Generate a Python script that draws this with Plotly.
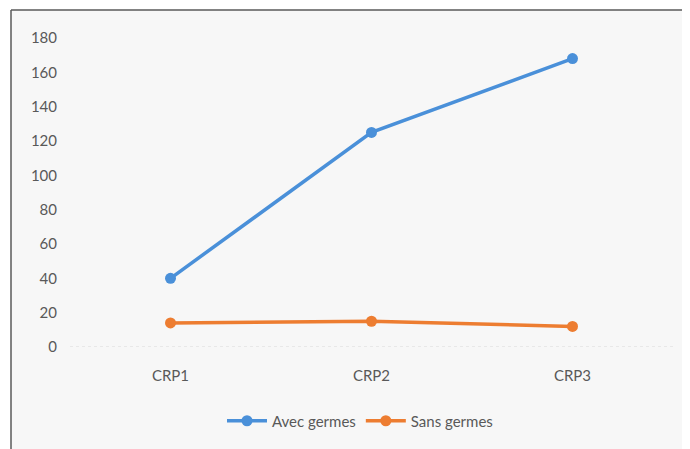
import plotly.graph_objects as go

categories = ["CRP1", "CRP2", "CRP3"]
avec_germes = [40, 125, 168]
sans_germes = [14, 15, 12]
y_ticks = [0, 20, 40, 60, 80, 100, 120, 140, 160, 180]

FONT = "Lato, Liberation Sans Narrow, sans-serif"
OFF = 8  # page body margin offset
W, H = 690 - OFF, 449 - OFF
L, T = 70 - OFF, 38 - OFF
R = W - (673 - OFF)
B = H - (347 - OFF)
pw, ph = W - L - R, H - T - B

def px(x):
    return (x - OFF - L) / pw

def py(y):
    return (H - B - (y - OFF)) / ph

fig = go.Figure()
fig.add_trace(go.Scatter(x=categories, y=avec_germes, name="Avec germes", mode="lines+markers",
                         line=dict(color="#4A90D9", width=3.5), marker=dict(size=11, color="#4A90D9")))
fig.add_trace(go.Scatter(x=categories, y=sans_germes, name="Sans germes", mode="lines+markers",
                         line=dict(color="#ED7D31", width=3.5), marker=dict(size=11, color="#ED7D31")))

shapes = [
    dict(type="rect", xref="paper", yref="paper", x0=px(11), x1=px(685), y0=py(470), y1=py(10),
         fillcolor="#F7F7F7", line=dict(width=0), layer="below"),
    dict(type="line", xref="paper", yref="paper", x0=px(11), x1=px(685), y0=py(10), y1=py(10),
         line=dict(color="#5A5A5A", width=1.5), layer="below"),
    dict(type="line", xref="paper", yref="paper", x0=px(11), x1=px(11), y0=py(470), y1=py(10),
         line=dict(color="#5A5A5A", width=1.5), layer="below"),
    dict(type="line", xref="paper", yref="paper", x0=px(684), x1=px(684), y0=py(470), y1=py(10),
         line=dict(color="#D0D0D0", width=1.5), layer="below"),
]

fig.update_layout(
    width=W, height=H,
    margin=dict(l=L, r=R, t=T, b=B),
    paper_bgcolor="white", plot_bgcolor="rgba(0,0,0,0)",
    font=dict(family=FONT, size=15, color="#595959"),
    shapes=shapes,
    showlegend=True,
    legend=dict(orientation="h", x=px(360), xanchor="center", y=py(421), yanchor="middle",
                font=dict(family=FONT, size=15, color="#595959"), itemwidth=40,
                bgcolor="rgba(0,0,0,0)", tracegroupgap=0),
    xaxis=dict(type="category", range=[-0.5, 2.5], showgrid=False, zeroline=False,
               showline=False, ticks="", ticklabelstandoff=18),
    yaxis=dict(range=[0, 180], tickvals=y_ticks, showgrid=False, zeroline=False,
               showline=False, ticks="", ticklabelstandoff=12),
)
fig.add_shape(type="line", xref="paper", yref="y", x0=0, x1=1, y0=0, y1=0,
              line=dict(color="#D9D9D9", width=1, dash="dot"), layer="below")

fig.write_html("out.html")
